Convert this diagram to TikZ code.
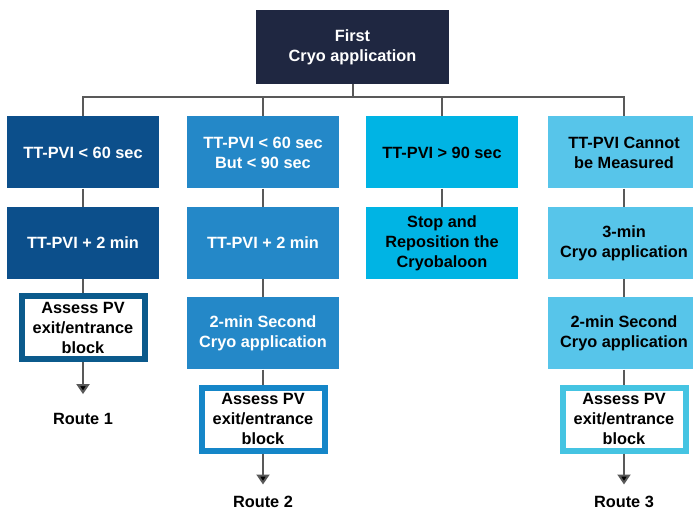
\documentclass[tikz,border=0pt]{standalone}
\usepackage{fontspec}
\setmainfont{Liberation Sans}
\usetikzlibrary{positioning,arrows.meta}

\definecolor{rootblue}{HTML}{1F2741}
\definecolor{colA}{HTML}{0C4F8B}
\definecolor{colB}{HTML}{2488C8}
\definecolor{colC}{HTML}{00B4E4}
\definecolor{colD}{HTML}{57C5EA}
\definecolor{edgeA}{HTML}{0B5A8C}
\definecolor{edgeB}{HTML}{1586C8}
\definecolor{edgeD}{HTML}{45C4E2}
\definecolor{linegray}{HTML}{595959}

\begin{document}
\begin{tikzpicture}[
		x = 1pt, y = -1pt, % pixel units, y downwards
		> = {Triangle[width=13pt,length=10pt]}, % arrow head style
		node distance = 18pt, % distance between boxes
		font=\fontsize{16.3}{20}\selectfont\bfseries
		]
		
		\tikzstyle{box}=[
		rectangle,
		minimum width = 152pt,
		minimum height = 72pt,
		align = center,
		inner sep = 2pt
		]
		\tikzstyle{assess}=[
		rectangle,
		fill = white,
		line width = 6pt,
		minimum width = 123pt,
		minimum height = 63pt,
		align = center,
		inner sep = 1pt
		]
		\tikzstyle{link}=[draw = linegray, line width = 2pt]
		
		\useasboundingbox (0,0) rectangle (693,510);
		
		\node[box, fill=rootblue, text=white, minimum width=193pt, minimum height=74pt] (root) at (352.5,47) {First\\Cryo application};
		\coordinate (bus) at (352.5,97);
		
		\node[box, fill=colA, text=white] (lt60) at (83,152.5) {TT-PVI < 60 sec};
		\node[box, fill=colA, text=white] (lt60b) [below=of lt60] {TT-PVI + 2 min};
		\node[assess, draw=edgeA] (ass1) [below=14pt of lt60b] {Assess PV\\exit/entrance\\block};
		\node[inner sep=0] (route1) [below=51pt of ass1] {Route 1};
		
		\node[box, fill=colB, text=white] (lt90) at (263,152.5) {TT-PVI < 60 sec\\But < 90 sec};
		\node[box, fill=colB, text=white] (lt90b) [below=of lt90] {TT-PVI + 2 min};
		\node[box, fill=colB, text=white] (lt90c) [below=of lt90b] {2-min Second\\Cryo application};
		\node[assess, draw=edgeB] (ass2) [below=15pt of lt90c] {Assess PV\\exit/entrance\\block};
		\node[inner sep=0] (route2) [below=42pt of ass2] {Route 2};
		
		\node[box, fill=colC] (gt90) at (442,152.5) {TT-PVI > 90 sec};
		\node[box, fill=colC] (gt90b) [below=of gt90] {Stop and\\Reposition the\\Cryobaloon};
		
		\node[box, fill=colD] (nomeas) at (624,152.5) {TT-PVI Cannot\\be Measured};
		\node[box, fill=colD] (nomeasb) [below=of nomeas] {3-min\\Cryo application};
		\node[box, fill=colD] (nomeasc) [below=of nomeasb] {2-min Second\\Cryo application};
		\node[assess, draw=edgeD] (ass3) [below=15pt of nomeasc] {Assess PV\\exit/entrance\\block};
		\node[inner sep=0] (route3) [below=42pt of ass3] {Route 3};
		
		\draw[link] (root) -- (bus);
		\draw[link] (bus) -| (lt60);
		\draw[link] (bus) -| (lt90);
		\draw[link] (bus) -| (gt90);
		\draw[link] (bus) -| (nomeas);
		
		\path[link]
		(lt60)    edge (lt60b)
		(lt60b)   edge (ass1)
		(lt90)    edge (lt90b)
		(lt90b)   edge (lt90c)
		(lt90c)   edge (ass2)
		(gt90)    edge (gt90b)
		(nomeas)  edge (nomeasb)
		(nomeasb) edge (nomeasc)
		(nomeasc) edge (ass3)
		;
		\path[link, ->]
		(ass1) edge [shorten >=19pt] (route1)
		(ass2) edge [shorten >=11pt] (route2)
		(ass3) edge [shorten >=11pt] (route3)
		;
	\end{tikzpicture}
\end{document}
